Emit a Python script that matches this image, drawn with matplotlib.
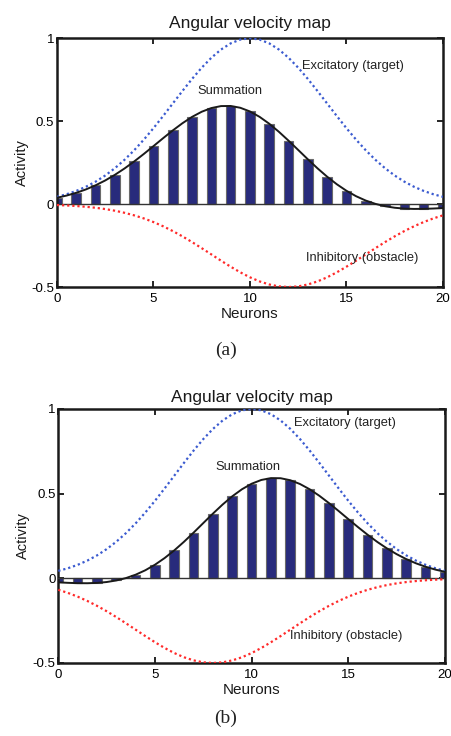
import matplotlib
matplotlib.use("Agg")
import matplotlib.pyplot as plt

# ---------------- data ----------------
neurons = list(range(21))
x_fine = [i * 0.5 for i in range(41)]

# panel (a)
exc_a = [0.0439, 0.0596, 0.0796, 0.1046, 0.1353, 0.1724, 0.2163, 0.2671, 0.3247, 0.3886,
         0.4578, 0.5311, 0.6065, 0.6819, 0.7548, 0.8226, 0.8825, 0.9321, 0.9692, 0.9922,
         1.0000,
         0.9922, 0.9692, 0.9321, 0.8825, 0.8226, 0.7548, 0.6819, 0.6065, 0.5311, 0.4578,
         0.3886, 0.3247, 0.2671, 0.2163, 0.1724, 0.1353, 0.1046, 0.0796, 0.0596, 0.0439]
inh_a = [-0.0056, -0.0080, -0.0114, -0.0160, -0.0220, -0.0298, -0.0398, -0.0523, -0.0677, -0.0862,
         -0.1082, -0.1336, -0.1624, -0.1943, -0.2289, -0.2656, -0.3033, -0.3410, -0.3774, -0.4113,
         -0.4413, -0.4661, -0.4846, -0.4961, -0.5000, -0.4961, -0.4846, -0.4661, -0.4413, -0.4113,
         -0.3774, -0.3410, -0.3033, -0.2656, -0.2289, -0.1943, -0.1624, -0.1336, -0.1082, -0.0862,
         -0.0677]
sum_a = [0.0383, 0.0516, 0.0682, 0.0886, 0.1133, 0.1426, 0.1765, 0.2148, 0.2570, 0.3024,
         0.3496, 0.3975, 0.4441, 0.4876, 0.5259, 0.5570, 0.5792, 0.5911, 0.5918, 0.5809,
         0.5587, 0.5261, 0.4846, 0.4360, 0.3825, 0.3265, 0.2702, 0.2158, 0.1652, 0.1198,
         0.0804, 0.0476, 0.0214, 0.0015, -0.0126, -0.0219, -0.0271, -0.0290, -0.0286, -0.0266,
         -0.0238]
bars_a = [0.0383, 0.0682, 0.1133, 0.1765, 0.2570, 0.3496, 0.4441, 0.5259, 0.5792, 0.5918,
          0.5587, 0.4846, 0.3825, 0.2702, 0.1652, 0.0804, 0.0214, -0.0126, -0.0271, -0.0286,
          -0.0238]

# panel (b)
exc_b = list(exc_a)
inh_b = [-0.0677, -0.0862, -0.1082, -0.1336, -0.1624, -0.1943, -0.2289, -0.2656, -0.3033, -0.3410,
         -0.3774, -0.4113, -0.4413, -0.4661, -0.4846, -0.4961, -0.5000, -0.4961, -0.4846, -0.4661,
         -0.4413, -0.4113, -0.3774, -0.3410, -0.3033, -0.2656, -0.2289, -0.1943, -0.1624, -0.1336,
         -0.1082, -0.0862, -0.0677, -0.0523, -0.0398, -0.0298, -0.0220, -0.0160, -0.0114, -0.0080,
         -0.0056]
sum_b = [-0.0238, -0.0266, -0.0286, -0.0290, -0.0271, -0.0219, -0.0126, 0.0015, 0.0214, 0.0476,
         0.0804, 0.1198, 0.1652, 0.2158, 0.2702, 0.3265, 0.3825, 0.4360, 0.4846, 0.5261,
         0.5587, 0.5809, 0.5918, 0.5911, 0.5792, 0.5570, 0.5259, 0.4876, 0.4441, 0.3975,
         0.3496, 0.3024, 0.2570, 0.2148, 0.1765, 0.1426, 0.1133, 0.0886, 0.0682, 0.0516,
         0.0383]
bars_b = [-0.0238, -0.0286, -0.0271, -0.0126, 0.0214, 0.0804, 0.1652, 0.2702, 0.3825, 0.4846,
          0.5587, 0.5918, 0.5792, 0.5259, 0.4441, 0.3496, 0.2570, 0.1765, 0.1133, 0.0682,
          0.0383]

title = "Angular velocity map"
xlabel = "Neurons"
ylabel = "Activity"
xticks = [0, 5, 10, 15, 20]
yticks = [-0.5, 0, 0.5, 1]
yticklabels = ["-0.5", "0", "0.5", "1"]

# ---------------- drawing ----------------
plt.rcParams['font.family'] = ['Liberation Sans', 'DejaVu Sans']
fig = plt.figure(figsize=(4.52, 7.36), dpi=100)

BAR = "#282B7C"
BLUE = "#3B5BD0"
RED = "#FF2A2A"

def panel(rect, exc, inh, summ, bars, lab_pos, caption, cap_y, tpad):
    ax = fig.add_axes(rect)
    ax.bar(neurons, bars, width=0.5, color=BAR, edgecolor="#6a6a6a", linewidth=0.8, zorder=2)
    ax.axhline(0, color="#333333", linewidth=1.0, zorder=3)
    ax.plot(x_fine, exc, linestyle=(0, (1, 1.3)), color=BLUE, linewidth=1.6, zorder=4)
    ax.plot(x_fine, inh, linestyle=(0, (1, 1.3)), color=RED, linewidth=1.6, zorder=4)
    ax.plot(x_fine, summ, color="#1a1a1a", linewidth=1.4, zorder=5)
    ax.set_xlim(0, 20)
    ax.set_ylim(-0.5, 1)
    ax.set_xticks(xticks)
    ax.set_yticks(yticks)
    ax.set_yticklabels(yticklabels)
    ax.tick_params(direction="in", top=True, right=True, length=4, width=1.2,
                   labelsize=9.5)
    ax.tick_params(axis="x", pad=4)
    ax.tick_params(axis="y", pad=2)
    for s in ax.spines.values():
        s.set_linewidth(1.8)
        s.set_color("#1a1a1a")
    ax.set_title(title, fontsize=12.5, pad=tpad, color="#1a1a1a")
    ax.set_xlabel(xlabel, fontsize=11, labelpad=1.5, color="#1a1a1a")
    ax.set_ylabel(ylabel, fontsize=10.5, labelpad=2, color="#1a1a1a")
    (ex, ey), (sx, sy), (ix, iy) = lab_pos
    kw = dict(fontsize=9.3, color="#222222", va="center", ha="left", zorder=6)
    ax.text(ex, ey, "Excitatory (target)", **kw)
    ax.text(sx, sy, "Summation", **kw)
    ax.text(ix, iy, "Inhibitory (obstacle)", **kw)
    fig.text(0.5, cap_y, caption, fontsize=14, family=["Liberation Serif", "DejaVu Serif"],
             ha="center", va="center", color="#222222")
    return ax

panel([0.126, 0.610, 0.854, 0.338], exc_a, inh_a, sum_a, bars_a,
      [(12.7, 0.83), (7.3, 0.68), (12.9, -0.325)], "(a)", 1 - 350 / 736, 7.5)
panel([0.129, 0.0992, 0.8555, 0.3451], exc_b, inh_b, sum_b, bars_b,
      [(12.2, 0.915), (8.15, 0.655), (12.0, -0.34)], "(b)", 1 - 718 / 736, 4.8)

fig.savefig("out.png", dpi=100)
